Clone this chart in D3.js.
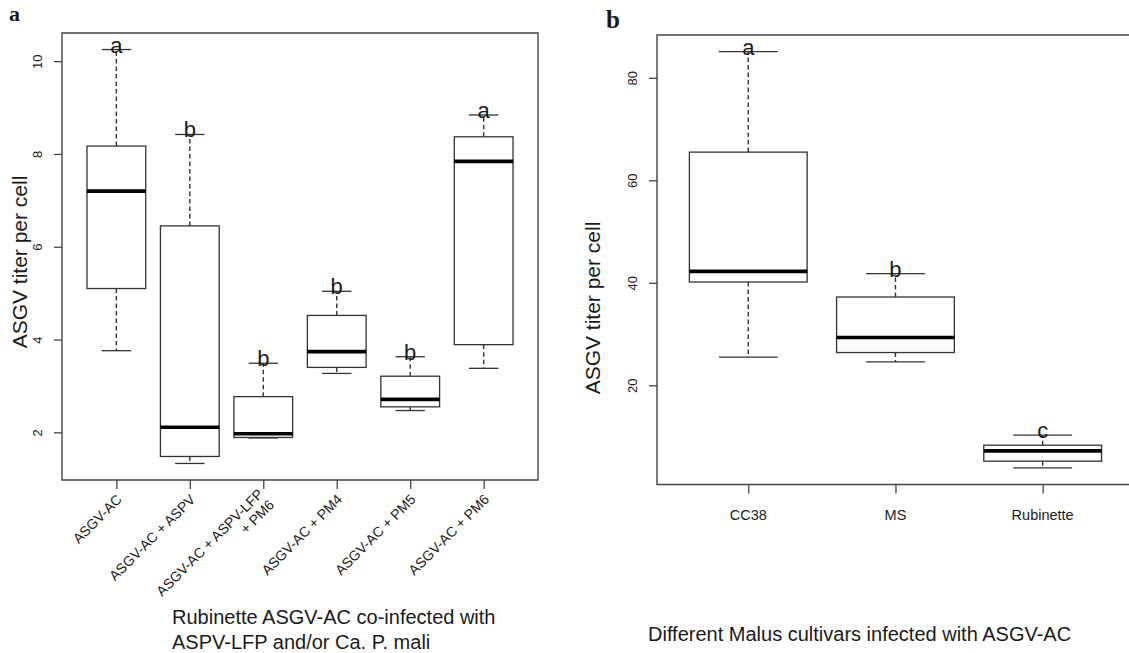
<!DOCTYPE html>
<html>
<head>
<meta charset="utf-8">
<script src="https://cdn.jsdelivr.net/npm/d3@7"></script>
<style>
  html, body { margin: 0; padding: 0; background: #fff; }
  svg { display: block; }
  text { font-family: "Liberation Sans", Arial, sans-serif; fill: #1a1a1a; }
</style>
</head>
<body>
<svg id="fig" width="1129" height="653"></svg>
<script>
// Panel a: Rubinette ASGV-AC co-infected with ASPV-LFP and/or Ca. P. mali
const coinfCategories = ["ASGV-AC", "ASGV-AC + ASPV", "ASGV-AC + ASPV-LFP\n+ PM6", "ASGV-AC + PM4", "ASGV-AC + PM5", "ASGV-AC + PM6"];
const coinfLow    = [3.76, 1.33, 1.88, 3.27, 2.47, 3.38];
const coinfQ1     = [5.10, 1.48, 1.89, 3.40, 2.55, 3.89];
const coinfMedian = [7.20, 2.11, 1.97, 3.74, 2.71, 7.84];
const coinfQ3     = [8.17, 6.45, 2.77, 4.52, 3.21, 8.37];
const coinfHigh   = [10.25, 8.42, 3.49, 5.04, 3.63, 8.84];
const coinfLetters = ["a", "b", "b", "b", "b", "a"];
const coinfTicks  = [2, 4, 6, 8, 10];

// Panel b: different Malus cultivars infected with ASGV-AC
const cultivars   = ["CC38", "MS", "Rubinette"];
const cultLow     = [25.5, 24.56, 3.90];
const cultQ1      = [40.16, 26.40, 5.20];
const cultMedian  = [42.24, 29.32, 7.21];
const cultQ3      = [65.5, 37.23, 8.32];
const cultHigh    = [85.1, 41.8, 10.27];
const cultLetters = ["a", "b", "c"];
const cultTicks   = [20, 40, 60, 80];

const svg = d3.select("#fig");
const INK = "#333";

// R-style axis range: data extent padded by 4% on each side
function padded(lo, hi) {
  const r = hi - lo;
  return [lo - 0.04 * r, hi + 0.04 * r];
}

function panel(opts) {
  const n = opts.categories.length;
  const g = svg.append("g");
  const x = d3.scaleLinear().domain(padded(0.5, n + 0.5)).range([opts.left, opts.left + opts.step * (n + 0.08 * n)]);
  const y = d3.scaleLinear().domain(padded(d3.min(opts.low), d3.max(opts.high))).range([opts.bottom, opts.top]);

  const rows = opts.categories.map((c, i) => ({
    pos: i + 1, low: opts.low[i], q1: opts.q1[i], med: opts.median[i],
    q3: opts.q3[i], high: opts.high[i], letter: opts.letters[i]
  }));

  const boxW = x(1.4) - x(1);      // half box width (0.4 units)
  const capW = x(1.2) - x(1);      // half staple width

  const b = g.selectAll("g.box").data(rows).join("g").attr("class", "box");

  // dashed whiskers
  b.append("line")
    .attr("x1", d => x(d.pos)).attr("x2", d => x(d.pos))
    .attr("y1", d => y(d.q3)).attr("y2", d => y(d.high))
    .attr("stroke", INK).attr("stroke-width", 1.4).attr("stroke-dasharray", "4.5,3");
  b.append("line")
    .attr("x1", d => x(d.pos)).attr("x2", d => x(d.pos))
    .attr("y1", d => y(d.q1)).attr("y2", d => y(d.low))
    .attr("stroke", INK).attr("stroke-width", 1.4).attr("stroke-dasharray", "4.5,3");
  // staples
  b.append("line")
    .attr("x1", d => x(d.pos) - capW).attr("x2", d => x(d.pos) + capW)
    .attr("y1", d => y(d.high)).attr("y2", d => y(d.high))
    .attr("stroke", INK).attr("stroke-width", 1.3);
  b.append("line")
    .attr("x1", d => x(d.pos) - capW).attr("x2", d => x(d.pos) + capW)
    .attr("y1", d => y(d.low)).attr("y2", d => y(d.low))
    .attr("stroke", INK).attr("stroke-width", 1.3);
  // box
  b.append("rect")
    .attr("x", d => x(d.pos) - boxW).attr("width", 2 * boxW)
    .attr("y", d => y(d.q3)).attr("height", d => y(d.q1) - y(d.q3))
    .attr("fill", "#fff").attr("stroke", INK).attr("stroke-width", 1.3);
  // median
  b.append("line")
    .attr("x1", d => x(d.pos) - boxW).attr("x2", d => x(d.pos) + boxW)
    .attr("y1", d => y(d.med)).attr("y2", d => y(d.med))
    .attr("stroke", "#000").attr("stroke-width", 3.6);
  // significance letters
  b.append("text")
    .attr("x", d => x(d.pos)).attr("y", d => y(d.high) + 3)
    .attr("text-anchor", "middle").style("font-size", "22px")
    .text(d => d.letter);

  // plot frame
  const [x0, x1] = x.range();
  g.append("path")
    .attr("d", `M${x0},${opts.top}H${x1}V${opts.bottom}H${x0}Z`)
    .attr("fill", "none").attr("stroke", "#444").attr("stroke-width", 1.4);

  // y axis
  const ya = g.append("g").attr("transform", `translate(${x0},0)`)
    .call(d3.axisLeft(y).tickValues(opts.ticks).tickSize(8).tickFormat(d3.format("d")));
  ya.select(".domain").remove();
  ya.selectAll(".tick line").attr("stroke", "#444").attr("stroke-width", 1.3);
  ya.selectAll(".tick text")
    .attr("x", null).attr("dy", null)
    .attr("text-anchor", "middle")
    .attr("transform", `translate(${-opts.yLabelGap},0) rotate(-90)`)
    .style("font-size", "13px").style("font-family", null).attr("fill", "#222");

  // x axis ticks
  const xa = g.append("g").attr("transform", `translate(0,${opts.bottom})`)
    .call(d3.axisBottom(x).tickValues(rows.map(d => d.pos)).tickSize(9).tickFormat(""));
  xa.select(".domain").remove();
  xa.selectAll(".tick line").attr("stroke", "#444").attr("stroke-width", 1.3);

  return { g, x, y };
}

// ---- panel a ----
const pa = panel({
  categories: coinfCategories, low: coinfLow, q1: coinfQ1, median: coinfMedian,
  q3: coinfQ3, high: coinfHigh, letters: coinfLetters, ticks: coinfTicks,
  left: 62, step: 73.46, top: 33, bottom: 480, yLabelGap: 20.5
});

// rotated category labels
const la = pa.g.append("g");
coinfCategories.forEach((c, i) => {
  const lines = c.split("\n");
  const lh = 15.5;
  const t = la.append("text")
    .attr("transform", `translate(${pa.x(i + 1) + 3},${497}) rotate(-45)`)
    .attr("text-anchor", "end")
    .style("font-size", "14px").attr("fill", "#222");
  lines.forEach((ln, k) => {
    t.append("tspan").attr("x", 0)
      .attr("y", (k - (lines.length - 1) / 2) * lh + 4.7)
      .text(ln);
  });
});

// axis titles
pa.g.append("text")
  .attr("transform", "translate(27,262) rotate(-90)")
  .attr("text-anchor", "middle").style("font-size", "21px")
  .text("ASGV titer per cell");
const ta = pa.g.append("text").style("font-size", "20px");
ta.append("tspan").attr("x", 172).attr("y", 624).text("Rubinette ASGV-AC co-infected with");
ta.append("tspan").attr("x", 172).attr("y", 649).text("ASPV-LFP and/or Ca. P. mali");

// ---- panel b ----
const pb = panel({
  categories: cultivars, low: cultLow, q1: cultQ1, median: cultMedian,
  q3: cultQ3, high: cultHigh, letters: cultLetters, ticks: cultTicks,
  left: 657, step: 147.2, top: 35, bottom: 484.5, yLabelGap: 20
});

pb.g.append("g").selectAll("text").data(cultivars).join("text")
  .attr("x", (d, i) => pb.x(i + 1)).attr("y", 519.5)
  .attr("text-anchor", "middle").style("font-size", "14.5px").attr("fill", "#222")
  .text(d => d);

pb.g.append("text")
  .attr("transform", "translate(600,308) rotate(-90)")
  .attr("text-anchor", "middle").style("font-size", "21px")
  .text("ASGV titer per cell");
pb.g.append("text")
  .attr("x", 648).attr("y", 641).style("font-size", "20px")
  .text("Different Malus cultivars infected with ASGV-AC");

// panel letters
svg.append("text").attr("x", 9).attr("y", 21)
  .style("font-family", "'Liberation Serif', 'Times New Roman', serif")
  .style("font-weight", "bold").style("font-size", "22px").text("a");
svg.append("text").attr("x", 606).attr("y", 28)
  .style("font-family", "'Liberation Serif', 'Times New Roman', serif")
  .style("font-weight", "bold").style("font-size", "25px").text("b");
</script>
</body>
</html>
